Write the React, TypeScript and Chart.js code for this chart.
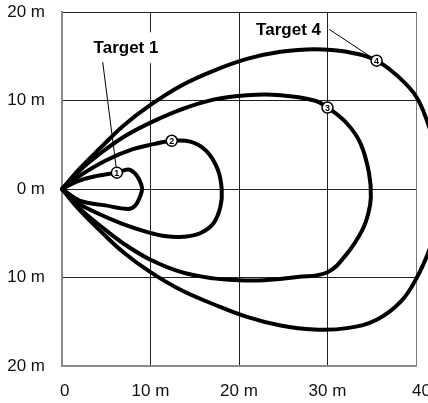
import React, { useEffect, useRef } from "react";
import { Chart, registerables } from "chart.js";

Chart.register(...registerables);

// ---- data ----
const xTickValues = [0, 10, 20, 30, 40];
const xTickLabels = ["0", "10 m", "20 m", "30 m", "40 m"];
const yTickValues = [20, 10, 0, -10, -20];
const yTickLabels = ["20 m", "10 m", "0 m", "10 m", "20 m"];

const target1X = [0, 1.8, 3.8, 6.2, 7.5, 8.2, 8.7, 9.05, 8.8, 8.25, 7.5, 4.9, 2.0, 0];
const target1Y = [0, 0.9, 1.45, 1.85, 2.2, 1.8, 1.1, 0.1, -0.9, -1.9, -2.25, -1.85, -1.3, 0];

const target2X = [0, 2, 4.9, 8, 10.5, 12.4, 14.5, 16.3, 17.6, 18.05, 17.9, 17.1, 15.6, 13.7, 11.8, 9.75, 6.75, 3.7, 1.5, 0];
const target2Y = [0, 1.5, 3.2, 4.5, 5.1, 5.45, 5.35, 4.3, 2.2, -0.1, -2.0, -3.9, -5.0, -5.4, -5.35, -4.9, -3.9, -2.6, -1.4, 0];

const target3X = [0, 2, 4.3, 7, 10, 13.5, 17.1, 20.9, 24.7, 28.5, 30, 32.2, 33.75, 34.7, 34.9, 34.6, 33.9, 32.2, 30, 26.6, 22.8, 20, 17.1, 13.5, 10, 7, 4.5, 2, 0];
const target3Y = [0, 2.1, 4.0, 5.9, 7.5, 9.0, 10.1, 10.6, 10.6, 10.0, 9.2, 7.4, 5.1, 1.75, -0.9, -2.8, -4.7, -7.3, -9.4, -9.95, -10.3, -10.3, -10.1, -9.4, -8.0, -6.2, -4.3, -2.2, 0];

const target4X = [0, 2, 4.3, 7, 10, 13.5, 17.1, 20.9, 24.7, 28.5, 32.2, 35.55, 38.2, 40.05, 41.35, 42.5, 43, 42.6, 41.5, 40.1, 38.3, 35.5, 32.2, 28.5, 24.7, 20.9, 17.2, 13.5, 10, 7, 4.5, 2, 0];
const target4Y = [0, 2.3, 4.6, 7.2, 9.5, 11.7, 13.35, 14.7, 15.5, 15.8, 15.5, 14.5, 12.5, 10.4, 7.4, 3.7, 0, -3.5, -6.9, -10, -12.7, -14.8, -15.72, -15.87, -15.42, -14.45, -13.05, -11.45, -9.4, -7.2, -4.9, -2.4, 0];

const markerX = [6.2, 12.4, 30.0, 35.55];
const markerY = [1.85, 5.45, 9.2, 14.5];
const markerLabels = ["1", "2", "3", "4"];

const calloutTexts = ["Target 1", "Target 4"];
const calloutTextX = [7.23, 25.6];
const calloutTextY = [15.9, 17.95];
const calloutLineX = [4.6, 30.2];
const calloutLineY = [14.33, 18.03];
const calloutMarker = [0, 3];

const FONT = "'Liberation Sans', Arial, Helvetica, sans-serif";

function toPoints(xs: number[], ys: number[]) {
  return xs.map((x, i) => ({ x, y: ys[i] }));
}

const MARKER_R = 5.5;

const overlayPlugin = {
  id: "overlay",
  afterDatasetsDraw(chart: any) {
    const { ctx, scales } = chart;
    const xs = scales.x;
    const ys = scales.y;
    ctx.save();
    calloutTexts.forEach((t, i) => {
      const cx = xs.getPixelForValue(calloutTextX[i]);
      const cy = ys.getPixelForValue(calloutTextY[i]);
      ctx.font = `bold 17px ${FONT}`;
      if (i === 0) {
        ctx.fillStyle = "#fff";
        ctx.fillRect(cx - 38, cy - 16, 76, 31);
      }
      ctx.fillStyle = "#000";
      ctx.textAlign = "center";
      ctx.textBaseline = "middle";
      ctx.fillText(t, cx, cy);
      const lx = xs.getPixelForValue(calloutLineX[i]);
      const ly = ys.getPixelForValue(calloutLineY[i]);
      const m = calloutMarker[i];
      const mx = xs.getPixelForValue(markerX[m]);
      const my = ys.getPixelForValue(markerY[m]);
      const dx = mx - lx;
      const dy = my - ly;
      const d = Math.sqrt(dx * dx + dy * dy);
      ctx.beginPath();
      ctx.strokeStyle = "#000";
      ctx.lineWidth = 1;
      ctx.moveTo(lx, ly);
      ctx.lineTo(mx - (dx / d) * MARKER_R, my - (dy / d) * MARKER_R);
      ctx.stroke();
    });
    const meta = chart.getDatasetMeta(0);
    ctx.font = `bold 9px ${FONT}`;
    ctx.fillStyle = "#000";
    ctx.textAlign = "center";
    ctx.textBaseline = "middle";
    meta.data.forEach((pt: any, i: number) => {
      ctx.fillText(markerLabels[i], pt.x, pt.y + 0.5);
    });
    ctx.restore();
  },
  afterDraw(chart: any) {
    const { ctx, scales } = chart;
    const xs = scales.x;
    ctx.save();
    ctx.font = `17px ${FONT}`;
    ctx.fillStyle = "#111";
    ctx.textBaseline = "middle";
    const yPix = xs.top + 25;
    xTickValues.forEach((v, i) => {
      const px = xs.getPixelForValue(v);
      if (i === 0) {
        ctx.textAlign = "left";
        ctx.fillText(xTickLabels[i], px - 2, yPix);
      } else if (i === xTickValues.length - 1) {
        ctx.textAlign = "left";
        ctx.fillText(xTickLabels[i], px - 4, yPix);
      } else {
        ctx.textAlign = "center";
        ctx.fillText(xTickLabels[i], px, yPix);
      }
    });
    ctx.restore();
  },
};

const curveStyle = {
  showLine: true,
  borderColor: "#000",
  borderWidth: 4,
  pointRadius: 0,
  pointHoverRadius: 0,
  tension: 0.4,
  clip: false as const,
  borderJoinStyle: "round" as const,
  borderCapStyle: "round" as const,
  fill: false,
  order: 1,
};

export default function App() {
  const ref = useRef<HTMLCanvasElement>(null);
  useEffect(() => {
    if (!ref.current) return;
    const gridColor = (c: any) =>
      c.tick && (c.tick.value === 40 ? "#7a7a7a" : "#222");
    const chart = new Chart(ref.current, {
      type: "scatter",
      data: {
        datasets: [
          {
            label: "markers",
            data: toPoints(markerX, markerY),
            showLine: false,
            pointRadius: MARKER_R,
            pointHoverRadius: MARKER_R,
            pointBackgroundColor: "#fff",
            pointBorderColor: "#000",
            pointBorderWidth: 1.5,
            clip: false,
            order: 0,
          } as any,
          { label: "Target 1", data: toPoints(target1X, target1Y), ...curveStyle } as any,
          { label: "Target 2", data: toPoints(target2X, target2Y), ...curveStyle } as any,
          { label: "Target 3", data: toPoints(target3X, target3Y), ...curveStyle } as any,
          { label: "Target 4", data: toPoints(target4X, target4Y), ...curveStyle } as any,
        ],
      },
      options: {
        responsive: false,
        animation: false,
        devicePixelRatio: 1,
        layout: { padding: { top: 0, right: 12, left: 0, bottom: 0 } },
        plugins: {
          legend: { display: false },
          tooltip: { enabled: false },
          title: { display: false },
        },
        events: [],
        scales: {
          x: {
            type: "linear",
            min: 0,
            max: 40,
            ticks: { display: false, stepSize: 10 },
            grid: { color: gridColor as any, lineWidth: 1, drawTicks: false },
            border: { color: "#8a8a8a", width: 2 },
            afterFit: (s: any) => {
              s.height = 37;
              s.paddingTop = 0;
              s.paddingBottom = 0;
              s.paddingLeft = 0;
              s.paddingRight = 0;
            },
          },
          y: {
            type: "linear",
            min: -20,
            max: 20,
            ticks: {
              stepSize: 10,
              padding: 17,
              color: "#111",
              font: { family: FONT, size: 17 },
              callback: (v: any) => {
                const idx = yTickValues.indexOf(Number(v));
                return idx >= 0 ? yTickLabels[idx] : "";
              },
            },
            grid: { color: "#222", lineWidth: 1, drawTicks: false },
            border: { color: "#8a8a8a", width: 2 },
            afterFit: (s: any) => {
              s.width = 62;
              s.paddingTop = 12;
              s.paddingBottom = 0;
            },
          },
        },
      },
      plugins: [overlayPlugin],
    });
    return () => chart.destroy();
  }, []);
  return (
    <div style={{ position: "absolute", left: 0, top: 0, width: 428, height: 403, background: "#fff" }}>
      <canvas ref={ref} width={428} height={403} style={{ display: "block" }} />
    </div>
  );
}
